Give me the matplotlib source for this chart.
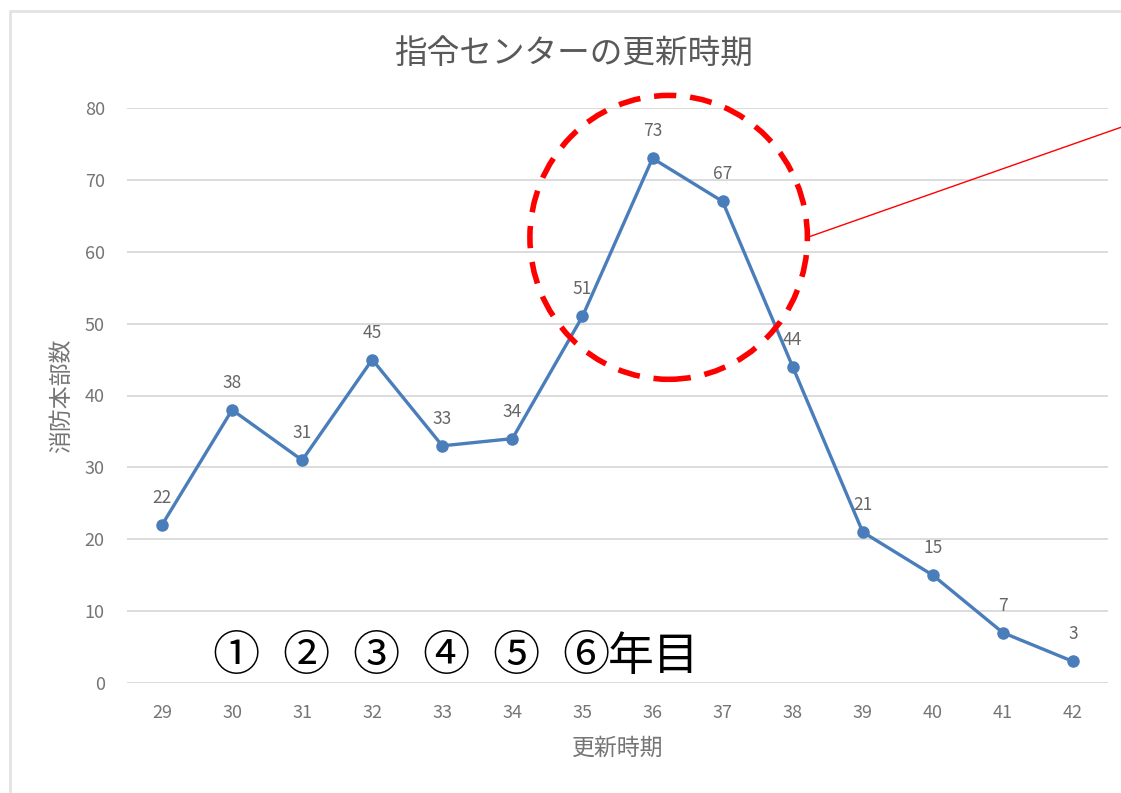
import matplotlib

matplotlib.use("Agg")
import matplotlib.pyplot as plt
from matplotlib.patches import Ellipse, Rectangle

plt.rcParams["font.family"] = ["Noto Sans CJK JP", "DejaVu Sans"]

# renewal period (x categories) and number of fire departments
PERIODS = [29, 30, 31, 32, 33, 34, 35, 36, 37, 38, 39, 40, 41, 42]
COUNTS = [22, 38, 31, 45, 33, 34, 51, 73, 67, 44, 21, 15, 7, 3]
Y_TICKS = [0, 10, 20, 30, 40, 50, 60, 70, 80]
YEAR_MARKS = ["①", "②", "③", "④", "⑤", "⑥"]
YEAR_MARK_PERIODS = [30, 31, 32, 33, 34, 35]

TITLE = "指令センターの更新時期"
XLABEL = "更新時期"
YLABEL = "消防本部数"

LINE_COLOR = "#4A7EBB"
TITLE_GRAY = "#595959"
TEXT_GRAY = "#757575"
GRID_GRAY = "#D9D9D9"

fig = plt.figure(figsize=(11.21, 7.93), dpi=100)
# light chart frame (cut off on the right and bottom like the screenshot)
fig.patches.append(Rectangle((10 / 1121, -0.05), 1.2, 1 - 11 / 793 + 0.05,
                             transform=fig.transFigure, fill=False,
                             edgecolor="#E3E3E3", linewidth=2))

ax = fig.add_axes([127 / 1121, 1 - 683 / 793, (1108 - 127) / 1121, (683 - 108) / 793])
ax.plot(PERIODS, COUNTS, color=LINE_COLOR, linewidth=2.4, marker="o",
        markersize=8, zorder=3)
for x, y in zip(PERIODS, COUNTS):
    ax.annotate(str(y), (x, y), xytext=(0, 13), textcoords="offset points",
                ha="center", va="bottom", fontsize=12.5, color="#666666")

ax.set_xlim(PERIODS[0] - 0.5, PERIODS[-1] + 0.5)
ax.set_ylim(0, 80)
ax.set_xticks(PERIODS)
ax.set_xticklabels([str(p) for p in PERIODS])
ax.set_yticks(Y_TICKS)
ax.grid(axis="y", color=GRID_GRAY, linewidth=1.3)
ax.set_axisbelow(True)
for s in ax.spines.values():
    s.set_visible(False)
ax.tick_params(length=0, labelsize=13, labelcolor=TEXT_GRAY)
ax.tick_params(axis="x", pad=15)
ax.tick_params(axis="y", pad=16)
ax.set_xlabel(XLABEL, fontsize=16.5, color=TEXT_GRAY, labelpad=11)
ax.set_ylabel(YLABEL, fontsize=16.5, color=TEXT_GRAY, labelpad=8)
# title is centred on the whole chart area, not the plot area
fig.text(573 / 1121, 1 - 55 / 793, TITLE, ha="center", va="center",
         fontsize=23.5, color=TITLE_GRAY)

# red dashed highlight around the peak + leader line
ax.add_patch(Ellipse((36.23, 62.0), 3.96, 39.5, fill=False, edgecolor="#FF0000",
                     linewidth=4, linestyle=(0, (4, 2.5)), clip_on=False, zorder=4))
ax.plot([38.21, 42.68], [62.0, 77.3], color="#FF0000", linewidth=1,
        clip_on=False, zorder=4)

# year markers
for mark, p in zip(YEAR_MARKS, YEAR_MARK_PERIODS):
    ax.text(p + 0.05, 3.6, mark, ha="center", va="center", fontsize=34,
            color="black", zorder=5)
ax.text(YEAR_MARK_PERIODS[-1] + 0.36, 3.6, "年目", ha="left", va="center",
        fontsize=33, color="black", zorder=5)

fig.savefig("out.png", dpi=100, facecolor="white")
